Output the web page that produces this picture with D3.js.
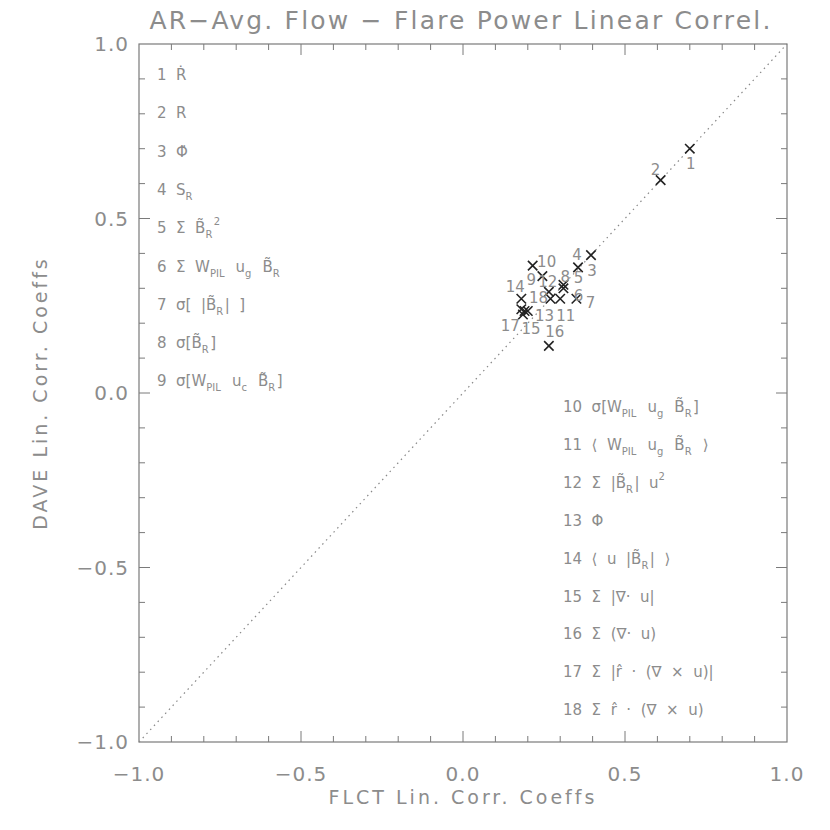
<!DOCTYPE html>
<html>
<head>
<meta charset="utf-8">
<script src="https://cdn.jsdelivr.net/npm/d3@7"></script>
<style>
  body { margin: 0; background: #fff; }
  text { font-family: "DejaVu Sans", "Liberation Sans", sans-serif; fill: #8c8c8c; }
</style>
</head>
<body>
<div id="chart"></div>
<script>
// point ids with FLCT (x) and DAVE (y) correlation coefficients
const ids = [1, 2, 3, 4, 5, 6, 7, 8, 9, 10, 11, 12, 13, 14, 15, 16, 17, 18];
const flct = [0.70, 0.61, 0.355, 0.395, 0.31, 0.31, 0.35, 0.30, 0.245, 0.215, 0.20, 0.265, 0.19, 0.18, 0.185, 0.265, 0.18, 0.27];
const dave = [0.70, 0.61, 0.36, 0.395, 0.31, 0.30, 0.27, 0.27, 0.335, 0.365, 0.235, 0.29, 0.235, 0.27, 0.225, 0.135, 0.24, 0.27];
// label offsets around each marker (dx, dy in px)
const labelDx = [1, -5, 14, -14, 15, 15, 14, 5, -11, 14, 38, -1, 20, -6, 8, 6, -11, -12];
const labelDy = [15, -10, 4, 0, -7, 8, 4, -22, 4, -4, 5, -10, 5, -12, 15, -14, 17, -1];

// legend entries: _{..} subscript, ^{..} superscript
const legendLeft = [
  "1 Ṙ", "2 R", "3 Φ̇", "4 S_{R}", "5 Σ B̃_{R}^{2}", "6 Σ W_{PIL} u_{g} B̃_{R}",
  "7 σ[ |B̃_{R}| ]", "8 σ[B̃_{R}]", "9 σ[W_{PIL} u_{c} B̃_{R}]"
];
const legendRight = [
  "10 σ[W_{PIL} u_{g} B̃_{R}]", "11 ⟨ W_{PIL} u_{g} B̃_{R} ⟩", "12 Σ |B̃_{R}| u^{2}", "13 Φ",
  "14 ⟨ u |B̃_{R}| ⟩", "15 Σ |∇· u|", "16 Σ (∇· u)", "17 Σ |r̂ · (∇ × u)|", "18 Σ r̂ · (∇ × u)"
];

const majorTicks = [-1.0, -0.5, 0.0, 0.5, 1.0];
const minorTicks = d3.range(-10, 11).map(d => d / 10);

const width = 830, height = 830;
const mLeft = 139, mRight = 787, mTop = 44, mBottom = 742;

const svg = d3.select('#chart').append('svg')
  .attr('width', width).attr('height', height);

const x = d3.scaleLinear().domain([-1, 1]).range([mLeft, mRight]);
const y = d3.scaleLinear().domain([-1, 1]).range([mBottom, mTop]);

const fmt = d => (d < 0 ? '\u2212' : '') + Math.abs(d).toFixed(1);
const axisColor = '#7a7a7a';

// frame
svg.append('rect')
  .attr('x', mLeft).attr('y', mTop)
  .attr('width', mRight - mLeft).attr('height', mBottom - mTop)
  .attr('fill', 'none').attr('stroke', axisColor).attr('stroke-width', 1.2);

// ticks on all four sides
function tickLen(d) { return majorTicks.some(m => Math.abs(m - d) < 1e-9) ? 11 : 6; }
const inner = minorTicks.slice(1, -1);
const tg = svg.append('g').attr('stroke', axisColor).attr('stroke-width', 1);
tg.selectAll('.tb').data(inner).join('line').attr('class', 'tb')
  .attr('x1', d => x(d)).attr('x2', d => x(d)).attr('y1', mBottom).attr('y2', d => mBottom - tickLen(d));
tg.selectAll('.tt').data(inner).join('line').attr('class', 'tt')
  .attr('x1', d => x(d)).attr('x2', d => x(d)).attr('y1', mTop).attr('y2', d => mTop + tickLen(d));
tg.selectAll('.tl').data(inner).join('line').attr('class', 'tl')
  .attr('y1', d => y(d)).attr('y2', d => y(d)).attr('x1', mLeft).attr('x2', d => mLeft + tickLen(d));
tg.selectAll('.tr').data(inner).join('line').attr('class', 'tr')
  .attr('y1', d => y(d)).attr('y2', d => y(d)).attr('x1', mRight).attr('x2', d => mRight - tickLen(d));

// tick labels
svg.selectAll('.xl').data(majorTicks).join('text').attr('class', 'xl')
  .attr('x', d => x(d)).attr('y', mBottom + 39)
  .attr('text-anchor', 'middle').attr('font-size', 20).attr('letter-spacing', 1).text(fmt);
svg.selectAll('.yl').data(majorTicks).join('text').attr('class', 'yl')
  .attr('x', mLeft - 10).attr('y', d => y(d) + 7)
  .attr('text-anchor', 'end').attr('font-size', 20).attr('letter-spacing', 1).text(fmt);

// titles
svg.append('text').attr('x', (mLeft + mRight) / 2 - 2).attr('y', 29)
  .attr('text-anchor', 'middle').attr('font-size', 25).attr('letter-spacing', 2.2)
  .text('AR\u2212Avg. Flow \u2212 Flare Power Linear Correl.');
svg.append('text').attr('x', (mLeft + mRight) / 2).attr('y', 804)
  .attr('text-anchor', 'middle').attr('font-size', 19).attr('letter-spacing', 3)
  .text('FLCT Lin. Corr. Coeffs');
svg.append('text')
  .attr('transform', `translate(47,${(mTop + mBottom) / 2}) rotate(-90)`)
  .attr('text-anchor', 'middle').attr('font-size', 19).attr('letter-spacing', 3)
  .text('DAVE Lin. Corr. Coeffs');

// diagonal dotted line
svg.append('line')
  .attr('x1', x(-1)).attr('y1', y(-1)).attr('x2', x(1)).attr('y2', y(1))
  .attr('stroke', '#888').attr('stroke-width', 1.2).attr('stroke-dasharray', '1.5,4');

// markers
const pts = ids.map((id, i) => ({ id, x: flct[i], y: dave[i], dx: labelDx[i], dy: labelDy[i] }));
const cross = d3.symbol().type(d3.symbolTimes).size(60);
svg.selectAll('.pt').data(pts).join('path').attr('class', 'pt')
  .attr('d', cross)
  .attr('transform', d => `translate(${x(d.x)},${y(d.y)})`)
  .attr('fill', 'none').attr('stroke', '#222').attr('stroke-width', 1.6);
svg.selectAll('.pl').data(pts).join('text').attr('class', 'pl')
  .attr('x', d => x(d.x) + d.dx).attr('y', d => y(d.y) + d.dy + 5)
  .attr('text-anchor', 'middle').attr('font-size', 15)
  .text(d => d.id);

// legend with sub/superscripts
function richText(sel, str) {
  const re = /([_^])\{([^}]*)\}|([^_^]+)/g;
  let m;
  while ((m = re.exec(str)) !== null) {
    if (m[3]) {
      sel.append('tspan').text(m[3]);
    } else {
      const sub = m[1] === '_';
      sel.append('tspan')
        .attr('font-size', 10)
        .attr('dy', sub ? 5 : -8).text(m[2]);
      sel.append('tspan').attr('dy', sub ? -5 : 8).text('\u200a');
    }
  }
}
function drawLegend(items, x0, y0, step) {
  items.forEach((s, i) => {
    const t = svg.append('text')
      .attr('x', x0).attr('y', y0 + i * step)
      .attr('font-size', 15).style('white-space', 'pre');
    richText(t, s.replace(/ /g, '  '));
  });
}
drawLegend(legendLeft, 157, 80, 38.3);
drawLegend(legendRight, 563, 412, 37.9);
</script>
</body>
</html>
